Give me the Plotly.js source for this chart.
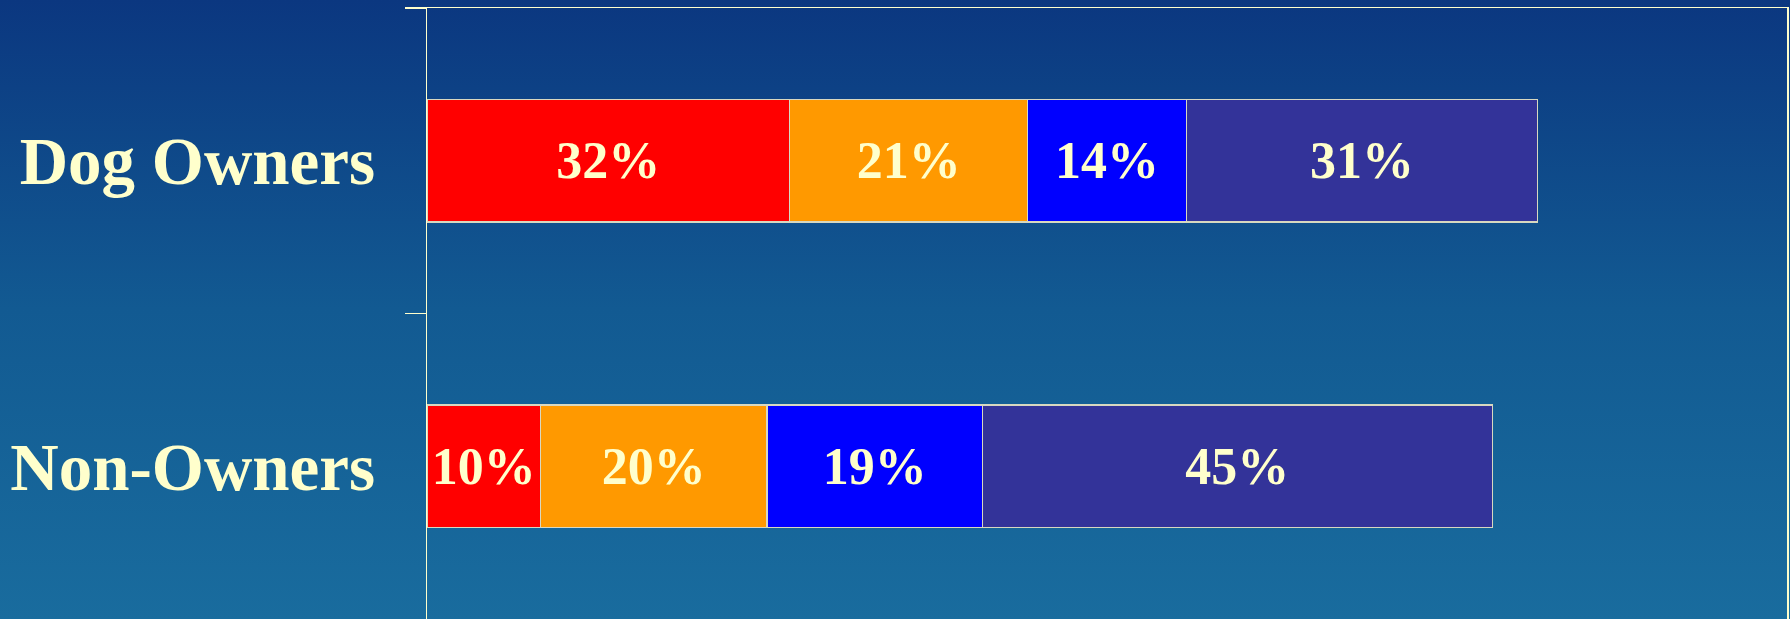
<!DOCTYPE html>
<html>
<head>
<meta charset="utf-8">
<script src="https://cdn.plot.ly/plotly-3.0.1.min.js"></script>
<style>
  html, body { margin: 0; padding: 0; overflow: hidden; }
  body { width: 1790px; height: 619px; background: linear-gradient(to bottom, #0b3780 0%, #125a92 50%, #196c9e 100%); }
  #chart { width: 1790px; height: 619px; }
</style>
</head>
<body>
<div id="chart"></div>
<script>
const categories = ["Dog Owners", "Non-Owners"];
const seriesNames = ["Group 1", "Group 2", "Group 3", "Group 4"];
const series1 = [32, 10];
const series2 = [21, 20];
const series3 = [14, 19];
const series4 = [31, 45];
const seriesValues = [series1, series2, series3, series4];
const seriesColors = ["#ff0000", "#ff9900", "#0000ff", "#333399"];

const cream = "#ffffcc";
const serif = "'Liberation Serif', 'Times New Roman', serif";

const traces = seriesValues.map((vals, i) => ({
  type: "bar",
  orientation: "h",
  name: seriesNames[i],
  y: categories,
  x: vals,
  width: 0.4,
  marker: { color: seriesColors[i], line: { color: "#d8d8c0", width: 1.5 } },
  text: vals.map(v => v + "%"),
  textposition: "inside",
  insidetextanchor: "middle",
  textangle: 0,
  constraintext: "none",
  textfont: { family: serif, size: 52, weight: "bold", color: cream },
  hoverinfo: "skip"
}));

const layout = {
  width: 1790,
  height: 619,
  barmode: "stack",
  showlegend: false,
  paper_bgcolor: "rgba(0,0,0,0)",
  plot_bgcolor: "rgba(0,0,0,0)",
  margin: { l: 427, r: 3, t: 8, b: 0, pad: 0 },
  xaxis: {
    range: [0, 120],
    side: "top",
    showline: true,
    linecolor: cream,
    linewidth: 1.5,
    showgrid: false,
    zeroline: false,
    showticklabels: false,
    ticks: ""
  },
  yaxis: {
    type: "category",
    range: [1.5, -0.5],
    showline: true,
    mirror: true,
    linecolor: cream,
    linewidth: 1.5,
    showgrid: false,
    zeroline: false,
    ticks: "outside",
    tickson: "boundaries",
    ticklen: 21,
    tickwidth: 1.5,
    tickcolor: cream,
    ticklabelstandoff: 37,
    tickfont: { family: serif, size: 67, weight: "bold", color: cream }
  }
};

Plotly.newPlot("chart", traces, layout, { displayModeBar: false, staticPlot: true });
</script>
</body>
</html>
